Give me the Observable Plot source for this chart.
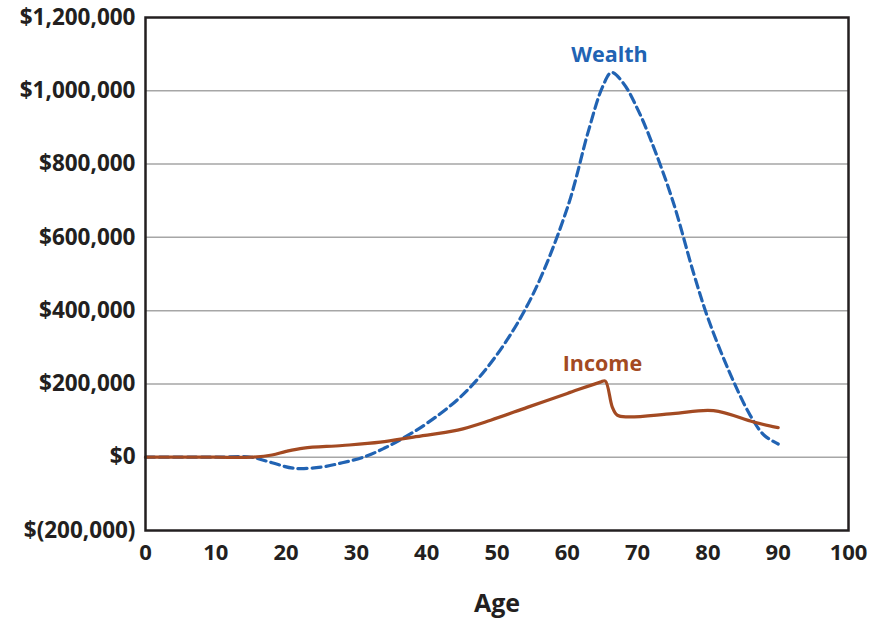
<!DOCTYPE html>
<html><head><meta charset="utf-8">
<script src="https://cdn.jsdelivr.net/npm/d3@7"></script>
<script src="https://cdn.jsdelivr.net/npm/@observablehq/plot@0.6"></script>
<style>body{margin:0;background:#fff}</style>
</head><body><div id="chart"></div>
<script>
const wealthAge = [0, 5, 10, 15, 18, 21, 25, 28, 31, 34, 37, 40, 45, 50, 55, 60, 63, 65, 66.3, 68, 70, 72, 75, 78, 80, 83, 86, 88, 90];
const wealthVal = [0, 0, 0, 0, -15000, -30000, -27000, -15000, 0, 25000, 56000, 92000, 168000, 280000, 440000, 680000, 890000, 1010000, 1050000, 1020000, 950000, 860000, 700000, 500000, 380000, 235000, 115000, 60000, 36000];
const incomeAge = [0, 5, 10, 15, 18, 20, 22.5, 28, 33.4, 38.1, 44.4, 49.1, 54.3, 60, 64.7, 65.4, 66.4, 67.1, 68.6, 75, 80.8, 86.5, 89.6, 90];
const incomeVal = [0, 0, 0, 0, 6000, 16000, 25000, 32000, 41000, 55000, 74000, 101000, 136000, 174000, 205000, 208000, 137000, 115000, 110000, 119000, 127000, 96000, 82000, 81000];
const yTicks = [-200000, 0, 200000, 400000, 600000, 800000, 1000000, 1200000];
const xTicks = [0, 10, 20, 30, 40, 50, 60, 70, 80, 90, 100];

const wealth = wealthAge.map((a, i) => ({age: a, value: wealthVal[i]}));
const income = incomeAge.map((a, i) => ({age: a, value: incomeVal[i]}));
const fmt = v => v < 0 ? "$(" + d3.format(",")(-v) + ")" : "$" + d3.format(",")(v);
const FONT = "'Open Sans', 'Noto Sans', sans-serif";

const chart = Plot.plot({
  width: 872, height: 619,
  marginLeft: 145, marginRight: 24, marginTop: 17, marginBottom: 89,
  style: {fontFamily: FONT, fontWeight: "bold", color: "#231f20", background: "#fff"},
  x: {domain: [0, 100]},
  y: {domain: [-200000, 1200000]},
  marks: [
    Plot.ruleY(yTicks.slice(1, -1), {stroke: "#a6a6a6", strokeWidth: 1.5}),
    Plot.line(wealth, {x: "age", y: "value", stroke: "#2163b3", strokeWidth: 3.2, strokeDasharray: "9,5", curve: "catmull-rom"}),
    Plot.line(income, {x: "age", y: "value", stroke: "#a34a22", strokeWidth: 3.2, curve: "catmull-rom"}),
    Plot.frame({stroke: "#231f20", strokeWidth: 2.5}),
    Plot.axisY({ticks: yTicks, tickFormat: fmt, tickSize: 0, tickPadding: 10, fontSize: 22.5, fontWeight: "bold", label: null}),
    Plot.axisX({ticks: xTicks, tickFormat: d => String(d), tickSize: 0, tickPadding: 14, fontSize: 22, fontWeight: "bold", label: null}),
    Plot.text(["Age"], {frameAnchor: "bottom", dy: 81, fontSize: 25, fontWeight: "bold", fill: "#231f20"}),
    Plot.text([{age: 66, value: 1097000, t: "Wealth"}], {x: "age", y: "value", text: "t", fill: "#2163b3", fontSize: 21.5, fontWeight: "bold"}),
    Plot.text([{age: 65, value: 254000, t: "Income"}], {x: "age", y: "value", text: "t", fill: "#a34a22", fontSize: 21.5, fontWeight: "bold"})
  ]
});
document.getElementById("chart").appendChild(chart);
</script></body></html>
